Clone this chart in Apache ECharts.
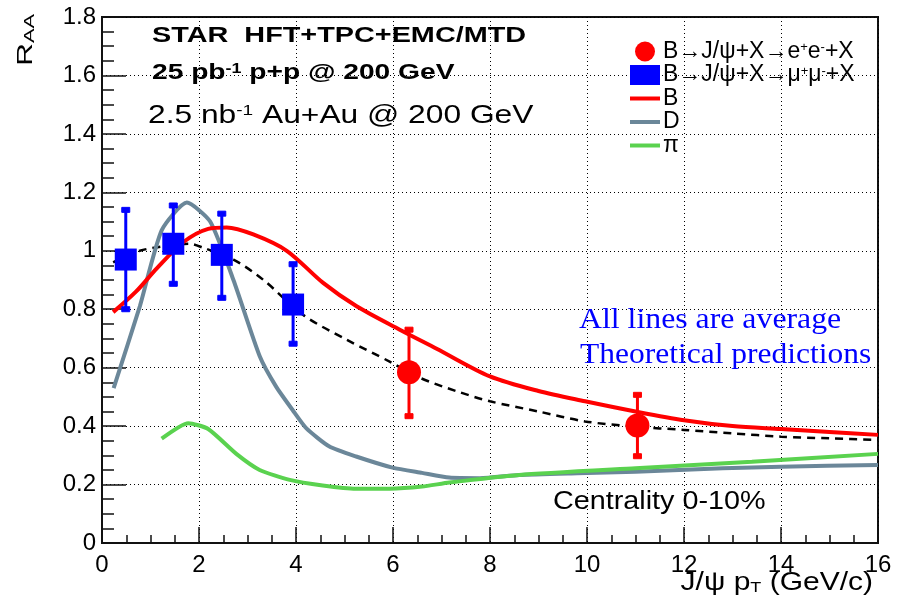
<!DOCTYPE html>
<html>
<head>
<meta charset="utf-8">
<script src="https://cdn.jsdelivr.net/npm/echarts@6/dist/echarts.min.js"></script>
<style>
  html, body { margin: 0; padding: 0; background: #fff; }
  #chart { width: 904px; height: 607px; }
</style>
</head>
<body>
<div id="chart"></div>
<script>
// theory curves (pT, R_AA)
var bX = [0.23, 0.7, 1.13, 1.68, 2.19, 2.57, 3.12, 3.81, 4.56, 5.25, 6.14, 6.9, 8.0, 9.0, 9.96, 11.0, 12.0, 13.0, 14.0, 15.0, 16.0];
var bY = [0.79, 0.86, 0.94, 1.03, 1.075, 1.08, 1.056, 1.0, 0.89, 0.81, 0.73, 0.665, 0.57, 0.52, 0.485, 0.45, 0.42, 0.40, 0.39, 0.38, 0.37];
var dX = [0.24, 0.78, 1.23, 1.75, 2.23, 2.71, 3.25, 3.59, 3.93, 4.21, 4.69, 5.24, 5.99, 6.6, 7.16, 7.79, 8.6, 9.8, 11.0, 12.8, 14.0, 16.0];
var dY = [0.53, 0.81, 1.07, 1.165, 1.10, 0.90, 0.64, 0.535, 0.455, 0.393, 0.33, 0.296, 0.258, 0.24, 0.224, 0.222, 0.233, 0.239, 0.244, 0.256, 0.261, 0.267];
var piX = [1.23, 1.78, 2.19, 2.77, 3.25, 3.87, 4.55, 5.24, 5.93, 6.6, 7.16, 8.6, 11.0, 13.4, 16.0];
var piY = [0.357, 0.41, 0.39, 0.305, 0.25, 0.216, 0.197, 0.186, 0.186, 0.193, 0.207, 0.233, 0.256, 0.278, 0.305];
var avgX = [0.23, 0.78, 1.47, 1.81, 2.09, 2.71, 3.33, 4.15, 5.04, 5.94, 6.56, 7.3, 8.0, 9.0, 9.96, 11.0, 12.0, 13.0, 14.0, 15.0, 16.0];
var avgY = [0.96, 1.0, 1.02, 1.024, 1.01, 0.97, 0.90, 0.78, 0.696, 0.62, 0.565, 0.52, 0.485, 0.45, 0.416, 0.398, 0.387, 0.375, 0.364, 0.358, 0.353];

// projected points with errors
var eeX = [6.33, 11.04];
var eeY = [0.584, 0.402];
var eeHi = [0.73, 0.507];
var eeLo = [0.434, 0.297];
var mmX = [0.49, 1.47, 2.47, 3.94];
var mmY = [0.97, 1.024, 0.986, 0.816];
var mmHi = [1.14, 1.155, 1.127, 0.954];
var mmLo = [0.80, 0.887, 0.839, 0.682];

var xTicks = [0, 2, 4, 6, 8, 10, 12, 14, 16];
var yTicks = [0, 0.2, 0.4, 0.6, 0.8, 1, 1.2, 1.4, 1.6, 1.8];

var legendText = {
  ee: 'B→J/ψ+X→e{sup|+}e{sup|-}+X',
  mm: 'B→J/ψ+X→μ{sup|+}μ{sup|-}+X',
  B: 'B',
  D: 'D',
  pi: 'π'
};

function pairs(xs, ys) {
  return xs.map(function (x, i) { return [x, ys[i]]; });
}
function errs(xs, lo, hi) {
  return xs.map(function (x, i) { return [x, lo[i], hi[i]]; });
}

function errorBar(color) {
  return function (params, api) {
    var top = api.coord([api.value(0), api.value(2)]);
    var bot = api.coord([api.value(0), api.value(1)]);
    var st = { fill: color, stroke: color };
    return {
      type: 'group',
      children: [
        { type: 'line', shape: { x1: top[0], y1: top[1], x2: bot[0], y2: bot[1] }, style: { stroke: color, lineWidth: 3 } },
        { type: 'rect', shape: { x: top[0] - 4, y: top[1] - 2.5, width: 8, height: 5 }, style: st },
        { type: 'rect', shape: { x: bot[0] - 4, y: bot[1] - 2.5, width: 8, height: 5 }, style: st }
      ]
    };
  };
}

var font = 'Liberation Sans';
var lineIcon = 'path://M0,0H30V4H0Z';

var chart = echarts.init(document.getElementById('chart'));
var option = {
  backgroundColor: '#fff',
  animation: false,
  grid: { left: 102, right: 26, top: 17, bottom: 64, show: true, borderColor: '#111', borderWidth: 2 },
  xAxis: {
    type: 'value', min: xTicks[0], max: xTicks[xTicks.length - 1], interval: 2,
    axisLine: { lineStyle: { color: '#111', width: 2 } },
    axisTick: { inside: true, length: 16, lineStyle: { color: '#111', width: 1.5 } },
    minorTick: { show: true, splitNumber: 4, length: 8, lineStyle: { color: '#111', width: 1.5 } },
    splitLine: { show: true, lineStyle: { color: '#000', type: [1, 3], width: 1 } },
    axisLabel: { color: '#000', fontSize: 24, fontFamily: font, margin: 10 }
  },
  yAxis: {
    type: 'value', min: yTicks[0], max: yTicks[yTicks.length - 1], interval: 0.2,
    axisLine: { lineStyle: { color: '#111', width: 2 } },
    axisTick: { inside: true, length: 24, lineStyle: { color: '#111', width: 1.5 } },
    minorTick: { show: true, splitNumber: 4, length: 12, lineStyle: { color: '#111', width: 1.5 } },
    splitLine: { show: true, lineStyle: { color: '#000', type: [1, 3], width: 1 } },
    axisLabel: {
      color: '#000', fontSize: 24, fontFamily: font, margin: 6,
      formatter: function (v) { return String(parseFloat(v.toFixed(1))); }
    }
  },
  legend: {
    orient: 'vertical', left: 630, top: 40, padding: 0,
    itemWidth: 30, itemHeight: 20, itemGap: 0.5,
    selectedMode: false,
    data: [
      { name: 'ee', icon: 'circle' },
      { name: 'mm', icon: 'rect' },
      { name: 'B', icon: lineIcon },
      { name: 'D', icon: lineIcon },
      { name: 'pi', icon: lineIcon }
    ],
    formatter: function (name) { return legendText[name]; },
    textStyle: {
      color: '#000', fontSize: 23, fontFamily: font, lineHeight: 21, padding: [0, 0, 0, -2],
      rich: { sup: { fontSize: 13, lineHeight: 21, fontFamily: font, color: '#000', verticalAlign: 'top' } }
    }
  },
  series: [
    { name: 'avg', type: 'line', data: pairs(avgX, avgY), smooth: 0.3, symbol: 'none',
      lineStyle: { color: '#000', width: 2.5, type: [8, 6] }, z: 2 },
    { name: 'D', type: 'line', data: pairs(dX, dY), smooth: 0.2, symbol: 'none',
      lineStyle: { color: '#6b8799', width: 4 }, itemStyle: { color: '#6b8799' }, z: 3 },
    { name: 'pi', type: 'line', data: pairs(piX, piY), smooth: 0.2, symbol: 'none',
      lineStyle: { color: '#5ad24f', width: 4 }, itemStyle: { color: '#5ad24f' }, z: 3 },
    { name: 'B', type: 'line', data: pairs(bX, bY), smooth: 0.3, symbol: 'none',
      lineStyle: { color: '#ff0000', width: 4 }, itemStyle: { color: '#ff0000' }, z: 4 },
    { name: 'eeErr', type: 'custom', data: errs(eeX, eeLo, eeHi), renderItem: errorBar('#ff0000'), z: 5 },
    { name: 'mmErr', type: 'custom', data: errs(mmX, mmLo, mmHi), renderItem: errorBar('#0000ff'), z: 5 },
    { name: 'ee', type: 'scatter', data: pairs(eeX, eeY), symbol: 'circle', symbolSize: 24,
      itemStyle: { color: '#ff0000', opacity: 1 }, z: 6 },
    { name: 'mm', type: 'scatter', data: pairs(mmX, mmY), symbol: 'rect', symbolSize: 22,
      itemStyle: { color: '#0000ff', opacity: 1 }, z: 6 }
  ],
  graphic: [
    { type: 'text', x: 152, y: 36, scaleX: 1.31, z: 10,
      style: { text: 'STAR  HFT+TPC+EMC/MTD', fontSize: 22, fontWeight: 'bold', fontFamily: font, fill: '#000',
        align: 'left', verticalAlign: 'middle', textAlign: 'left', textVerticalAlign: 'middle' } },
    { type: 'text', x: 152, y: 73, scaleX: 1.28, z: 10,
      style: { text: '25 pb{sup|-1} p+p @ 200 GeV', fontSize: 22, fontWeight: 'bold', fontFamily: font, fill: '#000',
        align: 'left', verticalAlign: 'middle', textAlign: 'left', textVerticalAlign: 'middle',
        rich: { sup: { fontSize: 14, fontWeight: 'bold', fontFamily: font, fill: '#000', verticalAlign: 'top' } } } },
    { type: 'text', x: 148, y: 116, scaleX: 1.27, z: 10,
      style: { text: '2.5 nb{sup|-1} Au+Au @ 200 GeV', fontSize: 25, fontFamily: font, fill: '#000',
        align: 'left', verticalAlign: 'middle', textAlign: 'left', textVerticalAlign: 'middle',
        rich: { sup: { fontSize: 15, fontFamily: font, fill: '#000', verticalAlign: 'top' } } } },
    { type: 'text', x: 579, y: 320, scaleX: 1.06, z: 10,
      style: { text: 'All lines are average', fontSize: 30, fontFamily: 'Liberation Serif', fill: '#0000ff',
        align: 'left', verticalAlign: 'middle', textAlign: 'left', textVerticalAlign: 'middle' } },
    { type: 'text', x: 580, y: 355, scaleX: 1.05, z: 10,
      style: { text: 'Theoretical predictions', fontSize: 30, fontFamily: 'Liberation Serif', fill: '#0000ff',
        align: 'left', verticalAlign: 'middle', textAlign: 'left', textVerticalAlign: 'middle' } },
    { type: 'text', x: 553, y: 502, scaleX: 1.15, z: 10,
      style: { text: 'Centrality 0-10%', fontSize: 25, fontFamily: font, fill: '#000',
        align: 'left', verticalAlign: 'middle', textAlign: 'left', textVerticalAlign: 'middle' } },
    { type: 'text', x: 873, y: 583, scaleX: 1.2, z: 10,
      style: { text: 'J/ψ p{sub|T} (GeV/c)', fontSize: 25, fontFamily: font, fill: '#000',
        align: 'right', verticalAlign: 'middle', textAlign: 'right', textVerticalAlign: 'middle',
        rich: { sub: { fontSize: 15, fontFamily: font, fill: '#000', verticalAlign: 'bottom' } } } },
    { type: 'text', x: 37, y: 66, rotation: Math.PI / 2, scaleX: 1.45, z: 10,
      style: { text: 'R{sub|AA}', fontSize: 22, fontFamily: font, fill: '#000',
        align: 'left', verticalAlign: 'bottom', textAlign: 'left', textVerticalAlign: 'bottom',
        rich: { sub: { fontSize: 15, fontFamily: font, fill: '#000', verticalAlign: 'bottom' } } } }
  ]
};
chart.setOption(option);
</script>
</body>
</html>
